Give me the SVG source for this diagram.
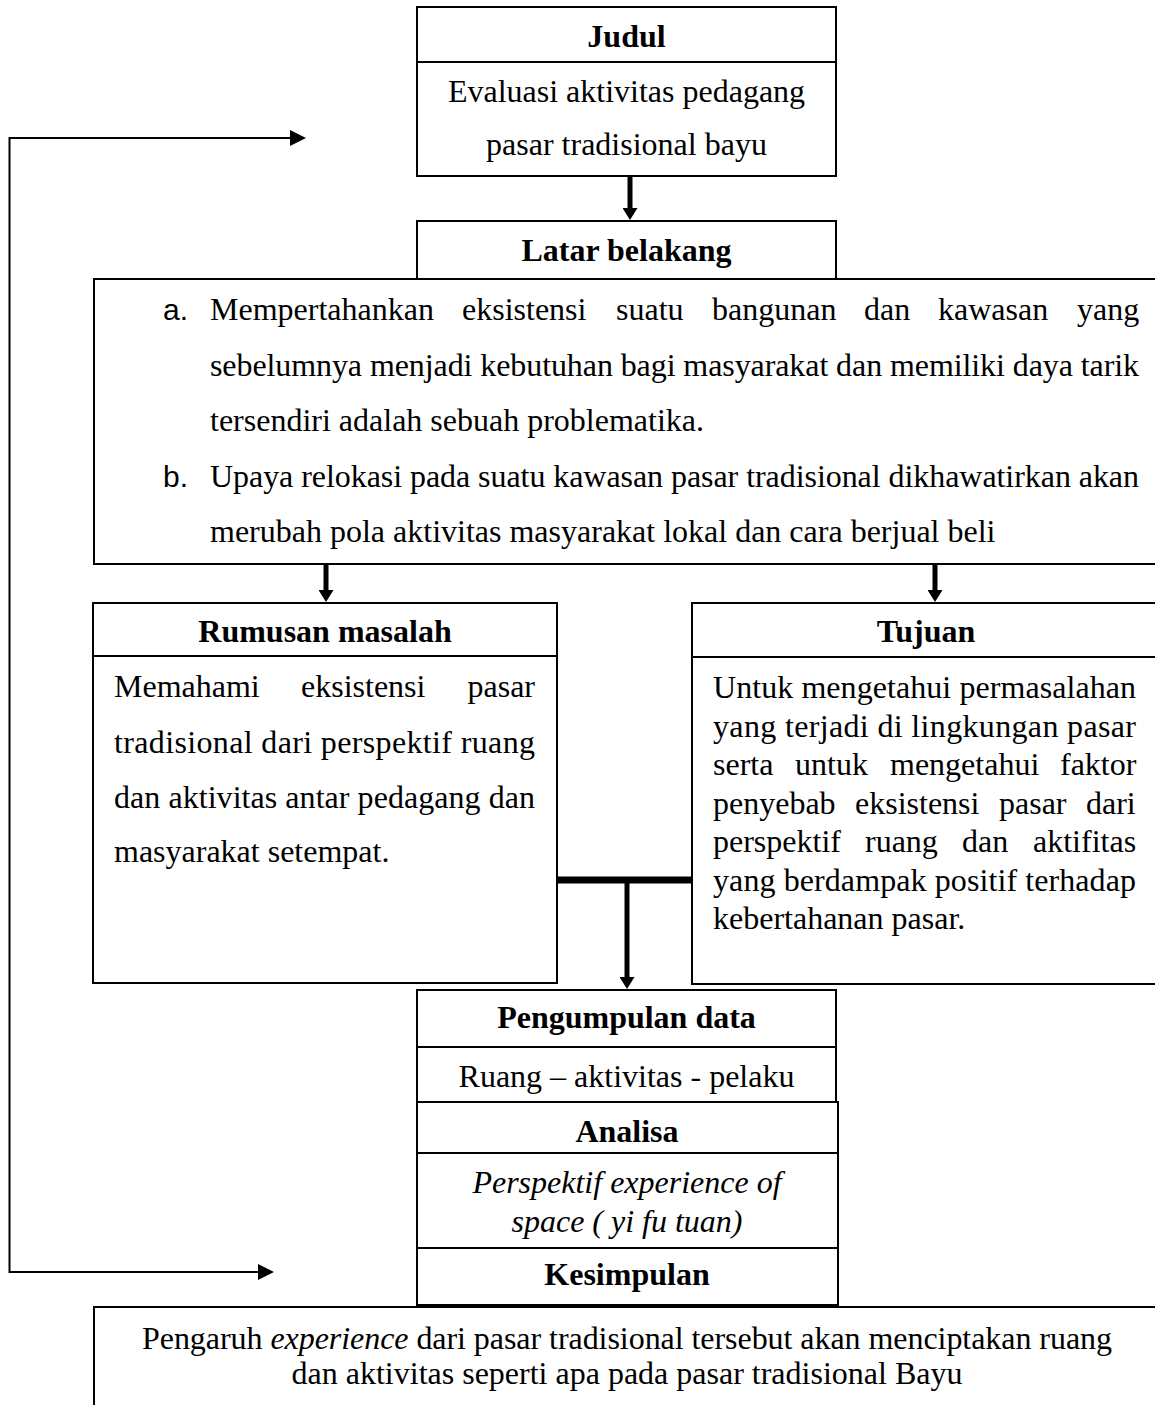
<svg xmlns="http://www.w3.org/2000/svg" width="1155" height="1405" viewBox="0 0 1155 1405">
<style>
.box{fill:#fff;stroke:#000;stroke-width:2}
.div{stroke:#000;stroke-width:2}
.t{font-family:"Liberation Serif","Times New Roman",serif;font-size:32px;fill:#000}
.b{font-weight:bold}
.i{font-style:italic}
.c{text-anchor:middle}
.lbl{font-family:"Liberation Sans",Arial,sans-serif;font-size:30px;fill:#000}
.thick{stroke:#000;stroke-width:5;fill:none}
.thin{stroke:#000;stroke-width:2;fill:none}
</style>
<defs>
<marker id="ah" markerUnits="userSpaceOnUse" markerWidth="12" markerHeight="15" refX="4" refY="7.5" orient="auto">
<path d="M0,0 L12,7.5 L0,15 z" fill="#000"/>
</marker>
<marker id="ahs" markerUnits="userSpaceOnUse" markerWidth="16" markerHeight="16" refX="2" refY="8" orient="auto">
<path d="M0,0 L16,8 L0,16 z" fill="#000"/>
</marker>
</defs>
<rect width="1155" height="1405" fill="#fff"/>

<g id="connectors">
<line class="thick" x1="630" y1="176" x2="630" y2="212" marker-end="url(#ah)"/>
<line class="thick" x1="326" y1="564" x2="326" y2="594" marker-end="url(#ah)"/>
<line class="thick" x1="935" y1="564" x2="935" y2="594" marker-end="url(#ah)"/>
<line x1="557" y1="880" x2="692" y2="880" stroke="#000" stroke-width="7"/>
<line class="thick" x1="627" y1="877" x2="627" y2="981" marker-end="url(#ah)"/>
<path class="thin" d="M9.5,138 H292" marker-end="url(#ahs)"/>
<path class="thin" d="M9.5,137 V1272 H260" marker-end="url(#ahs)"/>
</g>

<g id="judul">
<rect class="box" x="417" y="7" width="419" height="169"/>
<line class="div" x1="417" y1="62" x2="836" y2="62"/>
<text class="t b c" x="626.5" y="47">Judul</text>
<text class="t c" x="626.5" y="102">Evaluasi aktivitas pedagang</text>
<text class="t c" x="626.5" y="155">pasar tradisional bayu</text>
</g>

<g id="latar-belakang">
<rect class="box" x="417" y="221" width="419" height="58"/>
<text class="t b c" x="626.5" y="261">Latar belakang</text>
<rect class="box" x="94" y="279" width="1100" height="285"/>
<text class="lbl" x="163" y="320">a.</text>
<text class="t" y="320"><tspan x="210">Mempertahankan</tspan><tspan x="462">eksistensi</tspan><tspan x="616">suatu</tspan><tspan x="712">bangunan</tspan><tspan x="864">dan</tspan><tspan x="938">kawasan</tspan><tspan x="1077">yang</tspan></text>
<text class="t" x="210" y="376" textLength="929" lengthAdjust="spacing">sebelumnya menjadi kebutuhan bagi masyarakat dan memiliki daya tarik</text>
<text class="t" x="210" y="431">tersendiri adalah sebuah problematika.</text>
<text class="lbl" x="163" y="487">b.</text>
<text class="t" x="210" y="487" textLength="929" lengthAdjust="spacing">Upaya relokasi pada suatu kawasan pasar tradisional dikhawatirkan akan</text>
<text class="t" x="210" y="542">merubah pola aktivitas masyarakat lokal dan cara berjual beli</text>
</g>

<g id="rumusan-masalah">
<rect class="box" x="93" y="603" width="464" height="380"/>
<line class="div" x1="93" y1="656" x2="557" y2="656"/>
<text class="t b c" x="325" y="642">Rumusan masalah</text>
<text class="t" y="697"><tspan x="114">Memahami</tspan><tspan x="301">eksistensi</tspan><tspan x="467.5">pasar</tspan></text>
<text class="t" x="114" y="753" textLength="421" lengthAdjust="spacing">tradisional dari perspektif ruang</text>
<text class="t" x="114" y="808" textLength="421" lengthAdjust="spacing">dan aktivitas antar pedagang dan</text>
<text class="t" x="114" y="862">masyarakat setempat.</text>
</g>

<g id="tujuan">
<rect class="box" x="692" y="603" width="500" height="381"/>
<line class="div" x1="692" y1="657" x2="1155" y2="657"/>
<text class="t b c" x="926" y="642">Tujuan</text>
<text class="t" x="713" y="698" textLength="423" lengthAdjust="spacing">Untuk mengetahui permasalahan</text>
<text class="t" x="713" y="736.5" textLength="423" lengthAdjust="spacing">yang terjadi di lingkungan pasar</text>
<text class="t" y="775"><tspan x="713">serta</tspan><tspan x="795">untuk</tspan><tspan x="890">mengetahui</tspan><tspan x="1060">faktor</tspan></text>
<text class="t" y="813.5"><tspan x="713">penyebab</tspan><tspan x="855">eksistensi</tspan><tspan x="999">pasar</tspan><tspan x="1086">dari</tspan></text>
<text class="t" y="852"><tspan x="713">perspektif</tspan><tspan x="865">ruang</tspan><tspan x="962">dan</tspan><tspan x="1033">aktifitas</tspan></text>
<text class="t" x="713" y="890.5" textLength="423" lengthAdjust="spacing">yang berdampak positif terhadap</text>
<text class="t" x="713" y="929">kebertahanan pasar.</text>
</g>

<g id="pengumpulan-data">
<rect class="box" x="417" y="990" width="419" height="57"/>
<text class="t b c" x="626.5" y="1028">Pengumpulan data</text>
</g>
<g id="ruang-aktivitas-pelaku">
<rect class="box" x="417" y="1047" width="419" height="55"/>
<text class="t c" x="626.5" y="1087">Ruang – aktivitas - pelaku</text>
</g>
<g id="analisa">
<rect class="box" x="417" y="1102" width="421" height="51"/>
<text class="t b c" x="627" y="1142">Analisa</text>
</g>
<g id="perspektif">
<rect class="box" x="417" y="1153" width="421" height="95"/>
<text class="t i c" x="627" y="1193">Perspektif experience of</text>
<text class="t i c" x="627" y="1232">space ( yi fu tuan)</text>
</g>
<g id="kesimpulan">
<rect class="box" x="417" y="1248" width="421" height="57"/>
<text class="t b c" x="627" y="1285">Kesimpulan</text>
</g>

<g id="hasil">
<rect class="box" x="94" y="1307" width="1100" height="200"/>
<text class="t" x="142" y="1349" textLength="970" lengthAdjust="spacing">Pengaruh <tspan class="i">experience</tspan> dari pasar tradisional tersebut akan menciptakan ruang</text>
<text class="t c" x="627" y="1384">dan aktivitas seperti apa pada pasar tradisional Bayu</text>
</g>
</svg>
